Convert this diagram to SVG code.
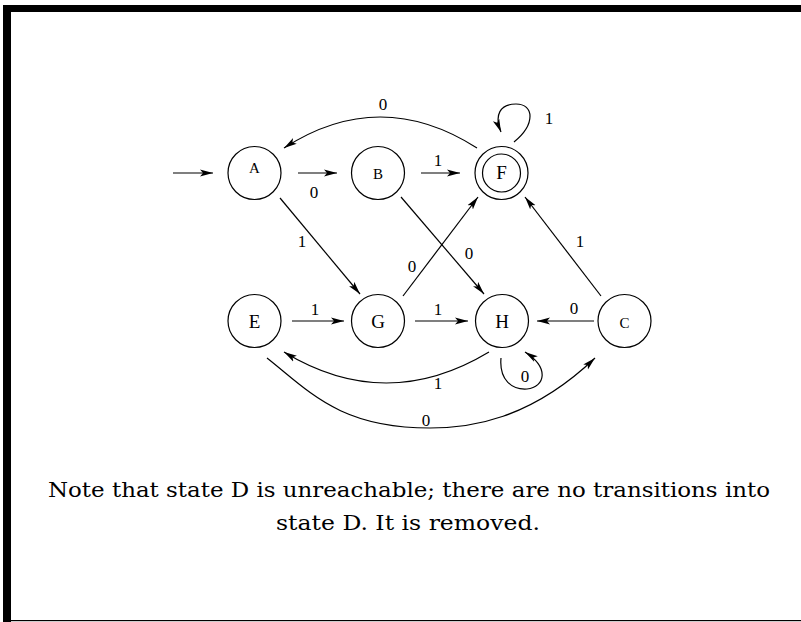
<svg xmlns="http://www.w3.org/2000/svg" width="801" height="622" viewBox="0 0 801 622">
<style>
.st{fill:none;stroke:#000;stroke-width:1.2}
.e{fill:none;stroke:#000;stroke-width:1.2;marker-end:url(#ah)}
.n1{font-family:"Liberation Serif","Times New Roman",serif;font-size:15px;text-anchor:middle;fill:#000}
.n2{font-family:"Liberation Serif","Times New Roman",serif;font-size:19px;text-anchor:middle;fill:#000}
.lb{font-family:"Liberation Serif","Times New Roman",serif;font-size:17px;text-anchor:middle;fill:#000}
.cap{font-family:"DejaVu Serif","Liberation Serif",serif;font-size:20px;fill:#000}
</style>
<defs>
<marker id="ah" markerWidth="14" markerHeight="8" refX="13" refY="4" orient="auto" markerUnits="userSpaceOnUse" viewBox="0 0 14 8">
<path d="M0,0.6 L13,4 L0,7.4 L3,4 z" fill="#000"/>
</marker>
</defs>
<rect width="801" height="622" fill="#fff"/>
<g id="frame">
<rect x="3" y="5" width="798" height="7" fill="#000"/>
<rect x="3" y="5" width="8" height="617" fill="#000"/>
<rect x="3" y="620" width="798" height="1.2" fill="#000"/>
</g>
<g id="connectors">
<line class="e" x1="173" y1="173" x2="213" y2="173"/>
<line class="e" x1="298" y1="173" x2="337" y2="173"/>
<line class="e" x1="421" y1="173" x2="460" y2="173"/>
<path class="e" d="M477,148 Q380,86 284,148"/>
<path class="e" d="M514,142 C536,124 534,104 516,104 C500,104 494,115 501,132"/>
<line class="e" x1="280" y1="198" x2="360" y2="294"/>
<line class="e" x1="401" y1="197" x2="484" y2="294"/>
<line class="e" x1="403" y1="296" x2="478" y2="197"/>
<line class="e" x1="601" y1="296" x2="525" y2="197"/>
<line class="e" x1="292" y1="321" x2="344" y2="321"/>
<line class="e" x1="415" y1="321" x2="468" y2="321"/>
<line class="e" x1="594" y1="321" x2="537" y2="321"/>
<path class="e" d="M489,352 Q386,414 284,352"/>
<path class="e" d="M267,358 C310,392 340,428 430,428 C470,428 530,420 595,358"/>
<path class="e" d="M501,358 C499,380 512,390 527,389 C545,387 550,368 525,352"/>
<text class="lb" x="383" y="110">0</text>
<text class="lb" x="549" y="124">1</text>
<text class="lb" x="314" y="198">0</text>
<text class="lb" x="438" y="166">1</text>
<text class="lb" x="302" y="247">1</text>
<text class="lb" x="469" y="259">0</text>
<text class="lb" x="412" y="272">0</text>
<text class="lb" x="580" y="247">1</text>
<text class="lb" x="315" y="315">1</text>
<text class="lb" x="438" y="315">1</text>
<text class="lb" x="574" y="314">0</text>
<text class="lb" x="438" y="389">1</text>
<text class="lb" x="426" y="426">0</text>
<text class="lb" x="525" y="382">0</text>
</g>
<g id="A"><circle class="st" cx="254.5" cy="173" r="26.5"/><text class="n1" x="254.5" y="173">A</text></g>
<g id="B"><circle class="st" cx="378" cy="173" r="26.5"/><text class="n1" x="378" y="179">B</text></g>
<g id="F"><circle class="st" cx="501.5" cy="173" r="26.5"/><circle class="st" cx="501.5" cy="173" r="19"/><text class="n2" x="501.5" y="179">F</text></g>
<g id="E"><circle class="st" cx="254.5" cy="321" r="26.5"/><text class="n2" x="254.5" y="328">E</text></g>
<g id="G"><circle class="st" cx="378" cy="321" r="26.5"/><text class="n2" x="378" y="328">G</text></g>
<g id="H"><circle class="st" cx="502" cy="321" r="26.5"/><text class="n2" x="502" y="328">H</text></g>
<g id="C"><circle class="st" cx="624.5" cy="321" r="26.5"/><text class="n1" x="624.5" y="328">C</text></g>
<g id="caption">
<text class="cap" x="48" y="497" textLength="722" lengthAdjust="spacingAndGlyphs">Note that state D is unreachable; there are no transitions into</text>
<text class="cap" x="276" y="530" textLength="264" lengthAdjust="spacingAndGlyphs">state D. It is removed.</text>
</g>
</svg>
